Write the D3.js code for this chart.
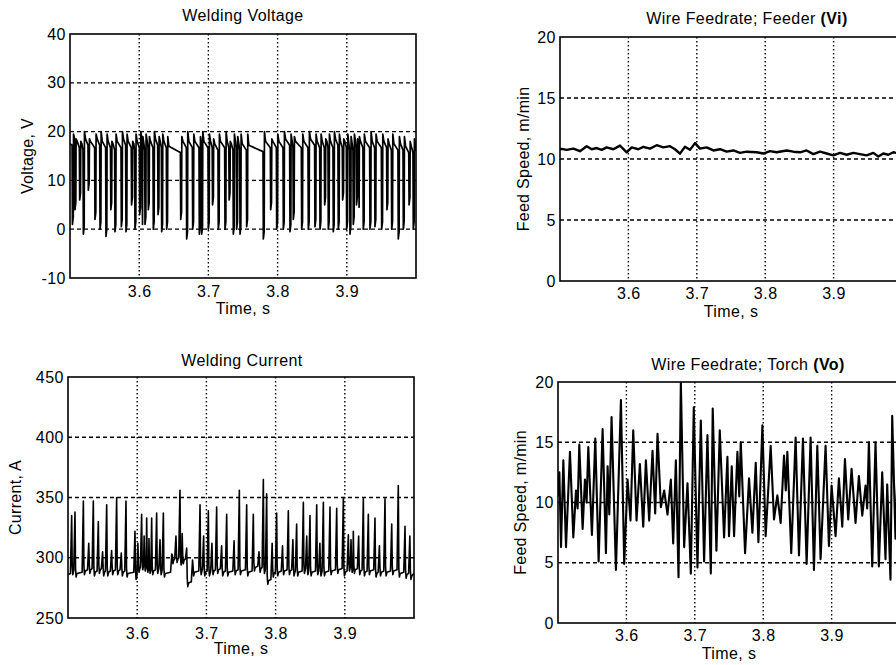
<!DOCTYPE html>
<html>
<head>
<meta charset="utf-8">
<script src="https://cdn.jsdelivr.net/npm/d3@7"></script>
<style>
  body { margin: 0; background: #fff; }
  svg text { font-family: "Liberation Sans", Arial, sans-serif; fill: #000; }
</style>
</head>
<body>
<div class="fig"></div>
<script>
"use strict";

// tick labels
var timeTicks = [3.6, 3.7, 3.8, 3.9];
var voltTicks = [-10, 0, 10, 20, 30, 40];
var currTicks = [250, 300, 350, 400, 450];
var feedTicks = [0, 5, 10, 15, 20];

// welding voltage: short circuits
// [time s, low V, re-ignition peak V, arc level after V]
var voltStart = 17.5, voltEnd = 16;
var voltDips = [
  [3.5035, 1, 19.5, 17.5], [3.5072, 4, 18.5, 17], [3.5140, 6, 18, 16.5],
  [3.5193, -1, 20, 17.5], [3.5265, 8, 18.5, 17], [3.5361, 2, 19.5, 17.5],
  [3.5434, 0, 20, 17], [3.5520, -1.5, 19.5, 17], [3.5590, 4, 18, 16.5],
  [3.5650, -0.5, 19.5, 17], [3.5742, 0.5, 20, 17.5], [3.5809, -0.5, 19.5, 17],
  [3.5890, 5, 18, 16.5], [3.5939, 0, 19.5, 17], [3.6007, 3, 20, 17.5],
  [3.6036, -0.5, 19, 16.5], [3.6084, 1, 19.5, 17], [3.6132, 4, 19, 17],
  [3.6204, 0, 20, 17.5], [3.6272, 3, 19, 17], [3.6325, -0.5, 19.5, 17],
  [3.6397, 0, 19, 16], [3.6600, 2, 19, 17], [3.6686, -2, 20, 17],
  [3.6773, 0, 19.5, 17], [3.6869, -1, 19, 16.5], [3.6903, -1, 20, 17],
  [3.6999, 0, 19.5, 17], [3.7060, 5, 18.5, 16.5], [3.7143, 0, 19.5, 17],
  [3.7240, 0, 20, 17], [3.7300, 6, 18, 16.5], [3.7360, -1, 19.5, 17],
  [3.7408, 0, 19, 16.5], [3.7457, -1, 19.5, 16.5], [3.7553, 0.5, 19.5, 16.2],
  [3.7794, -2, 20, 17], [3.7900, 4, 18.5, 17], [3.7987, 0, 19.5, 17],
  [3.8083, 0, 20, 17.5], [3.8179, -0.5, 19.5, 17], [3.8227, 2, 19, 17],
  [3.8348, 0, 19.5, 17], [3.8444, 0, 20, 17.5], [3.8540, 0.5, 19.5, 17],
  [3.8613, 0, 19.5, 17], [3.8680, 5, 18.5, 17], [3.8733, 0, 19.5, 17],
  [3.8805, -0.5, 20, 17.5], [3.8877, 0, 19.5, 17], [3.8940, 6, 18.5, 17],
  [3.8998, 0, 19.5, 16.5], [3.9046, -1, 19, 16.5], [3.9094, 1, 19.5, 17],
  [3.9140, 5, 18.5, 16.5], [3.9166, 3, 19, 17], [3.9238, 0, 19.5, 17],
  [3.9335, 0, 20, 17], [3.9407, 0.5, 19.5, 17], [3.9504, 0, 19.5, 17],
  [3.9580, 4, 18.5, 16.5], [3.9649, 0, 19.5, 16.5], [3.9744, -2, 19, 16.5],
  [3.9817, 0, 19, 16], [3.9900, 5, 18, 16], [3.9961, 0, 18.5, 16]
];

// welding current spikes: [time s, peak A, base level after A]
var currStart = 286, currEnd = 287;
var currSpikes = [
  [3.5053, 335, 289], [3.5101, 338, 287], [3.5222, 347, 289], [3.5300, 312, 290],
  [3.5366, 347, 288], [3.5438, 330, 290], [3.5500, 305, 288], [3.5559, 344, 288],
  [3.5630, 306, 289], [3.5703, 350, 289], [3.5770, 304, 288], [3.5838, 347, 287],
  [3.5968, 322, 285], [3.6010, 312, 291], [3.6064, 336, 293], [3.6100, 318, 292],
  [3.6137, 333, 291], [3.6170, 316, 290], [3.6209, 333, 289], [3.6281, 337, 290],
  [3.6330, 315, 289], [3.6378, 337, 287], [3.6500, 303, 298], [3.6560, 318, 299],
  [3.6618, 356, 297], [3.6650, 320, 298], [3.6715, 308, 279], [3.6800, 298, 288],
  [3.6908, 344, 289], [3.6960, 318, 288], [3.7028, 339, 288], [3.7080, 312, 289],
  [3.7148, 342, 290], [3.7220, 310, 288], [3.7293, 336, 288], [3.7400, 314, 289],
  [3.7476, 356, 289], [3.7582, 344, 288], [3.7678, 336, 292], [3.7760, 305, 291],
  [3.7823, 365, 290], [3.7871, 353, 281], [3.7950, 312, 287], [3.8015, 337, 288],
  [3.8100, 310, 289], [3.8184, 339, 289], [3.8250, 315, 288], [3.8304, 328, 288],
  [3.8401, 346, 290], [3.8450, 318, 289], [3.8497, 335, 288], [3.8594, 344, 289],
  [3.8640, 312, 288], [3.8690, 346, 288], [3.8786, 342, 289], [3.8883, 341, 290],
  [3.8979, 349, 288], [3.9051, 319, 292], [3.9090, 315, 291], [3.9123, 322, 290],
  [3.9200, 318, 289], [3.9268, 349, 288], [3.9340, 336, 289], [3.9436, 333, 287],
  [3.9500, 310, 288], [3.9581, 349, 288], [3.9678, 328, 289], [3.9773, 360, 287],
  [3.9870, 326, 286], [3.9940, 318, 285]
];

// wire feed speed at the feeder (Vi), m/min
var feederPts = [
  [3.5000, 10.8], [3.5024, 10.83], [3.5097, 10.75], [3.5195, 10.85], [3.5292, 10.64],
  [3.5390, 11.05], [3.5463, 10.8], [3.5536, 10.9], [3.5609, 10.75], [3.5682, 10.95],
  [3.5780, 10.8], [3.5877, 11.1], [3.5975, 10.55], [3.6048, 10.95], [3.6145, 10.8],
  [3.6218, 11.0], [3.6316, 10.85], [3.6413, 11.13], [3.6510, 10.95], [3.6608, 11.05],
  [3.6681, 10.8], [3.6754, 10.44], [3.6827, 11.0], [3.6900, 10.75], [3.6974, 11.3],
  [3.7047, 10.85], [3.7144, 10.95], [3.7242, 10.7], [3.7339, 10.8], [3.7437, 10.6],
  [3.7534, 10.7], [3.7632, 10.5], [3.7729, 10.6], [3.7875, 10.55], [3.7972, 10.45],
  [3.8070, 10.65], [3.8168, 10.55], [3.8314, 10.7], [3.8411, 10.6], [3.8509, 10.55],
  [3.8606, 10.7], [3.8703, 10.4], [3.8801, 10.6], [3.8899, 10.45], [3.8996, 10.3],
  [3.9094, 10.5], [3.9191, 10.35], [3.9288, 10.5], [3.9386, 10.4], [3.9483, 10.3],
  [3.9581, 10.5], [3.9654, 10.2], [3.9727, 10.45], [3.9800, 10.35], [3.9873, 10.55],
  [4.0000, 10.4]
];

// wire feed speed at the torch (Vo), m/min: turning points of the trace
var torchPts = [
  [3.5000, 10.5], [3.5020, 12.5], [3.5044, 6.3], [3.5078, 13.5], [3.5117, 6.3],
  [3.5175, 14.2], [3.5224, 7.1], [3.5263, 11.0], [3.5287, 9.5], [3.5311, 14.8],
  [3.5360, 7.8], [3.5394, 11.9], [3.5418, 10.0], [3.5443, 14.6], [3.5496, 7.3],
  [3.5545, 15.3], [3.5594, 5.1], [3.5652, 16.1], [3.5701, 5.8], [3.5725, 13.0],
  [3.5750, 9.0], [3.5783, 17.1], [3.5847, 4.4], [3.5920, 18.5], [3.5968, 4.9],
  [3.6017, 11.9], [3.6060, 8.5], [3.6100, 16.0], [3.6148, 8.5], [3.6197, 13.2],
  [3.6246, 8.0], [3.6285, 13.5], [3.6333, 8.5], [3.6382, 14.3], [3.6421, 9.1],
  [3.6455, 15.7], [3.6504, 9.6], [3.6552, 11.0], [3.6601, 9.0], [3.6650, 11.9],
  [3.6684, 6.6], [3.6723, 13.5], [3.6762, 3.8], [3.6796, 20.0], [3.6844, 6.3],
  [3.6893, 11.6], [3.6942, 4.1], [3.6985, 17.9], [3.7039, 4.6], [3.7088, 16.8],
  [3.7136, 5.1], [3.7185, 15.6], [3.7234, 4.1], [3.7262, 17.8], [3.7316, 6.0],
  [3.7365, 16.0], [3.7428, 7.1], [3.7477, 13.8], [3.7500, 7.2], [3.7540, 13.0],
  [3.7574, 7.2], [3.7623, 14.2], [3.7650, 10.5], [3.7672, 15.0], [3.7735, 5.8],
  [3.7793, 12.0], [3.7842, 7.5], [3.7891, 13.3], [3.7930, 6.7], [3.7988, 16.4],
  [3.8036, 7.2], [3.8109, 14.7], [3.8158, 8.6], [3.8207, 10.6], [3.8255, 8.3],
  [3.8304, 13.9], [3.8330, 11.0], [3.8353, 14.2], [3.8410, 5.8], [3.8474, 15.4],
  [3.8523, 5.6], [3.8581, 15.3], [3.8635, 4.9], [3.8693, 15.4], [3.8742, 4.4],
  [3.8791, 14.7], [3.8839, 5.3], [3.8912, 14.7], [3.8961, 6.4], [3.9000, 11.4],
  [3.9058, 7.2], [3.9107, 12.0], [3.9156, 8.0], [3.9195, 13.6], [3.9243, 8.6],
  [3.9292, 12.8], [3.9350, 8.3], [3.9399, 12.2], [3.9448, 8.9], [3.9496, 11.4],
  [3.9520, 9.5], [3.9545, 15.0], [3.9594, 4.7], [3.9642, 15.0], [3.9691, 4.7],
  [3.9740, 12.5], [3.9788, 5.3], [3.9813, 11.5], [3.9861, 3.6], [3.9886, 17.2],
  [3.9934, 7.0], [3.9970, 14.0], [4.0000, 9.0]
];

var width = 896, height = 665;

var svg = d3.select(".fig").append("svg")
    .attr("width", width)
    .attr("height", height);

// join the read-off events into a polyline (keeps time increasing)
function pushPt(arr, t, v) {
  if (arr.length && t <= arr[arr.length - 1][0]) return;
  arr.push([t, v]);
}

var voltPts = [[3.5, voltStart]];
var prevArc = voltStart;
voltDips.forEach(function(d) {
  pushPt(voltPts, d[0] - 0.0005, prevArc - 0.3);
  pushPt(voltPts, d[0], d[1]);
  pushPt(voltPts, d[0] + 0.0012, d[1] + 1.5);
  pushPt(voltPts, d[0] + 0.0016, d[2]);
  pushPt(voltPts, d[0] + 0.0032, d[3] + 1);
  prevArc = d[3];
});
pushPt(voltPts, 4.0, voltEnd);

var currPts = [[3.5, currStart]];
var prevBase = currStart;
currSpikes.forEach(function(d) {
  pushPt(currPts, d[0] - 0.0018, prevBase + 1);
  pushPt(currPts, d[0], d[1]);
  pushPt(currPts, d[0] + 0.0008, d[2] + 4);
  pushPt(currPts, d[0] + 0.0016, d[2] - 3);
  pushPt(currPts, d[0] + 0.0028, d[2]);
  prevBase = d[2];
});
pushPt(currPts, 4.0, currEnd);

var panels = [
  {id: "volt", left: 70, top: 34, w: 346, h: 244, yDomain: [-10, 40], yTicks: voltTicks,
   title: ["Welding Voltage"], titleX: 243, titleY: 21, yLabel: "Voltage, V", yLabelX: 33,
   pad: 8, data: voltPts, sw: 1.7},
  {id: "feeder", left: 560, top: 37, w: 342, h: 244, yDomain: [0, 20], yTicks: feedTicks,
   title: ["Wire Feedrate; Feeder ", "(Vi)"], titleX: 747, titleY: 24, yLabel: "Feed Speed, m/min", yLabelX: 529,
   pad: 7, data: feederPts, sw: 2.4},
  {id: "curr", left: 68, top: 377, w: 346, h: 241, yDomain: [250, 450], yTicks: currTicks,
   title: ["Welding Current"], titleX: 242, titleY: 366, yLabel: "Current, A", yLabelX: 21,
   pad: 10, data: currPts, sw: 1.6},
  {id: "torch", left: 558, top: 382, w: 342, h: 241, yDomain: [0, 20], yTicks: feedTicks,
   title: ["Wire Feedrate; Torch ", "(Vo)"], titleX: 748, titleY: 370, yLabel: "Feed Speed, m/min", yLabelX: 526,
   pad: 7, data: torchPts, sw: 2.1}
];

function plain(d) { return String(d); }

panels.forEach(function(p) {
  var x = d3.scaleLinear().domain([3.5, 4.0]).range([0, p.w]);
  var y = d3.scaleLinear().domain(p.yDomain).range([p.h, 0]);

  var g = svg.append("g")
      .attr("transform", "translate(" + p.left + "," + p.top + ")");

  g.append("clipPath").attr("id", "clip-" + p.id)
    .append("rect").attr("width", p.w).attr("height", p.h);

  // grid
  g.append("g").selectAll("line")
      .data(timeTicks).enter().append("line")
      .attr("x1", function(d){ return x(d); })
      .attr("x2", function(d){ return x(d); })
      .attr("y1", 0).attr("y2", p.h)
      .attr("stroke", "#000")
      .attr("stroke-width", 1.4)
      .attr("stroke-dasharray", "1.5,2.5");

  g.append("g").selectAll("line")
      .data(p.yTicks.slice(1, -1)).enter().append("line")
      .attr("x1", 0).attr("x2", p.w)
      .attr("y1", function(d){ return y(d); })
      .attr("y2", function(d){ return y(d); })
      .attr("stroke", "#000")
      .attr("stroke-width", 1.3)
      .attr("stroke-dasharray", "4,3");

  // trace
  var line = d3.line()
      .x(function(d){ return x(d[0]); })
      .y(function(d){ return y(d[1]); });

  g.append("path")
      .datum(p.data)
      .attr("clip-path", "url(#clip-" + p.id + ")")
      .attr("fill", "none")
      .attr("stroke", "#000")
      .attr("stroke-width", p.sw)
      .attr("stroke-linejoin", "round")
      .attr("d", line);

  // frame
  g.append("rect")
      .attr("width", p.w).attr("height", p.h)
      .attr("fill", "none")
      .attr("stroke", "#000")
      .attr("stroke-width", 1.6);

  // axes
  var xAxis = g.append("g")
      .attr("transform", "translate(0," + p.h + ")")
      .call(d3.axisBottom(x).tickValues(timeTicks).tickFormat(plain).tickSize(0).tickPadding(p.pad));
  var yAxis = g.append("g")
      .call(d3.axisLeft(y).tickValues(p.yTicks).tickFormat(plain).tickSize(0).tickPadding(4));

  [xAxis, yAxis].forEach(function(a) {
    a.select(".domain").remove();
    a.attr("font-family", null).attr("font-size", null);
    a.selectAll("text")
        .style("font-size", "16px")
        .style("letter-spacing", "0.5px")
        .style("fill", "#000");
  });

  g.append("text")
      .attr("x", p.w / 2)
      .attr("y", p.h + 36)
      .attr("text-anchor", "middle")
      .style("font-size", "16px")
      .style("letter-spacing", "0.4px")
      .text("Time, s");

  g.append("text")
      .attr("transform", "translate(" + (p.yLabelX - p.left) + "," + (p.h / 2) + ") rotate(-90)")
      .attr("text-anchor", "middle")
      .style("font-size", "16px")
      .style("letter-spacing", "0.3px")
      .text(p.yLabel);

  var title = svg.append("text")
      .attr("x", p.titleX)
      .attr("y", p.titleY)
      .attr("text-anchor", "middle")
      .style("font-size", "16px")
      .style("letter-spacing", "0.4px");
  title.append("tspan").text(p.title[0]);
  if (p.title[1]) {
    title.append("tspan").style("font-weight", "bold").text(p.title[1]);
  }
});
</script>
</body>
</html>
